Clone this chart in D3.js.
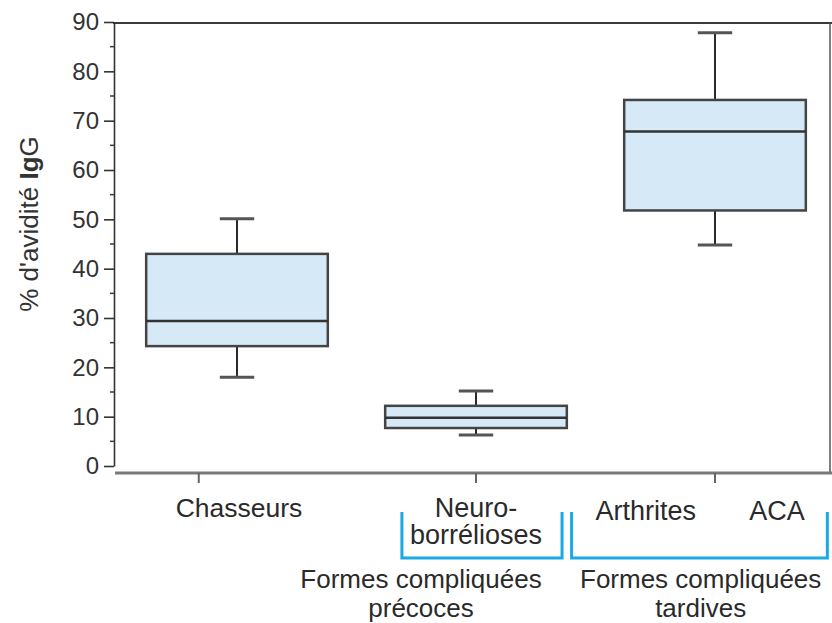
<!DOCTYPE html>
<html>
<head>
<meta charset="utf-8">
<script src="https://cdn.jsdelivr.net/npm/d3@7"></script>
<style>
  html, body { margin: 0; padding: 0; background: #fff; }
  svg { display: block; font-family: "Liberation Sans", Arial, Helvetica, sans-serif; }
</style>
</head>
<body>
<svg id="chart" width="832" height="623"></svg>
<script>
// Groups and their box-plot statistics (% IgG avidity)
const groups = ["Chasseurs", "Neuroborrélioses", "Formes tardives"];
const whiskerLow  = [18, 6.3, 44.8];
const q1          = [24.3, 7.7, 51.8];
const median      = [29.4, 9.8, 67.8];
const q3          = [43, 12.2, 74.2];
const whiskerHigh = [50.1, 15.2, 87.8];

// Axis ticks
const yMajorTicks = [0, 10, 20, 30, 40, 50, 60, 70, 80, 90];
const yMinorTicks = [5, 15, 25, 35, 45, 55, 65, 75, 85];
const xTickValues = [-0.16, 1, 2];

const svg = d3.select("#chart");

const y = d3.scaleLinear().domain([0, 90]).range([466, 22]);
const x = d3.scaleLinear().domain([0, 2]).range([237, 715]);

const frameLeft = 114, frameRight = 830, frameTop = 23, baseY = 473;
const boxHalf = 0.38;   // half box width in group units
const capHalf = 0.072;  // half cap width in group units

// Frame: top and right borders
svg.append("line").attr("x1", frameLeft - 1).attr("x2", 832)
  .attr("y1", frameTop).attr("y2", frameTop)
  .attr("stroke", "#3a3a3a").attr("stroke-width", 2);
svg.append("line").attr("x1", frameRight).attr("x2", frameRight)
  .attr("y1", frameTop).attr("y2", baseY)
  .attr("stroke", "#555").attr("stroke-width", 1.5);

// Y axis
const yAxis = svg.append("g").attr("transform", `translate(${frameLeft},0)`);
yAxis.call(d3.axisLeft(y).tickValues(yMajorTicks).tickSize(10).tickPadding(5).tickSizeOuter(0))
  .call(g => g.select(".domain").attr("stroke", "#333").attr("stroke-width", 1.6))
  .call(g => g.selectAll(".tick line").attr("stroke", "#333").attr("stroke-width", 1.6))
  .call(g => g.selectAll(".tick text").attr("fill", "#333")
    .style("font-size", "24px").style("font-family", "'Liberation Sans', Arial, sans-serif"));
yAxis.selectAll(".minor").data(yMinorTicks).join("line")
  .attr("class", "minor")
  .attr("x1", -4).attr("x2", 0)
  .attr("y1", d => y(d)).attr("y2", d => y(d))
  .attr("stroke", "#444").attr("stroke-width", 1.6);

// Y axis title
const yTitle = svg.append("text")
  .attr("transform", `translate(38,224) rotate(-90)`)
  .attr("text-anchor", "middle")
  .attr("fill", "#333")
  .style("font-size", "26px");
yTitle.append("tspan").text("% d'avidité ");
yTitle.append("tspan").attr("font-weight", "bold").text("Ig");
yTitle.append("tspan").text("G");

// X axis baseline with ticks
svg.append("line").attr("x1", frameLeft + 1).attr("x2", 832)
  .attr("y1", baseY).attr("y2", baseY)
  .attr("stroke", "#7a7a7a").attr("stroke-width", 3);
svg.selectAll(".xtick").data(xTickValues).join("line")
  .attr("class", "xtick")
  .attr("x1", d => x(d)).attr("x2", d => x(d))
  .attr("y1", baseY).attr("y2", baseY + 10)
  .attr("stroke", "#666").attr("stroke-width", 2);

// Box plots
const idx = d3.range(groups.length);
const boxes = svg.append("g");
boxes.selectAll(".whisker").data(idx).join("g").attr("class", "whisker")
  .each(function (i) {
    const g = d3.select(this);
    g.append("line").attr("x1", x(i)).attr("x2", x(i))
      .attr("y1", y(whiskerHigh[i])).attr("y2", y(q3[i]))
      .attr("stroke", "#2a2a2a").attr("stroke-width", 2);
    g.append("line").attr("x1", x(i)).attr("x2", x(i))
      .attr("y1", y(q1[i])).attr("y2", y(whiskerLow[i]))
      .attr("stroke", "#2a2a2a").attr("stroke-width", 2);
    [whiskerHigh[i], whiskerLow[i]].forEach(v => {
      g.append("line").attr("x1", x(i - capHalf)).attr("x2", x(i + capHalf))
        .attr("y1", y(v)).attr("y2", y(v))
        .attr("stroke", "#555").attr("stroke-width", 3);
    });
  });
boxes.selectAll(".box").data(idx).join("rect").attr("class", "box")
  .attr("x", i => x(i - boxHalf))
  .attr("width", i => x(i + boxHalf) - x(i - boxHalf))
  .attr("y", i => y(q3[i]))
  .attr("height", i => y(q1[i]) - y(q3[i]))
  .attr("fill", "#d6e9f7")
  .attr("stroke", "#444").attr("stroke-width", 2.5);
boxes.selectAll(".median").data(idx).join("line").attr("class", "median")
  .attr("x1", i => x(i - boxHalf)).attr("x2", i => x(i + boxHalf))
  .attr("y1", i => y(median[i])).attr("y2", i => y(median[i]))
  .attr("stroke", "#333").attr("stroke-width", 2.5);

// Category labels
const labelStyle = (sel, size) => sel.attr("fill", "#2a2a2a").attr("text-anchor", "middle").style("font-size", (size || 27) + "px");
svg.append("text").attr("x", x(0) + 2).attr("y", 517).text("Chasseurs").call(labelStyle, 26.5);
svg.append("text").attr("x", x(1)).attr("y", 517).text("Neuro-").call(labelStyle);
svg.append("text").attr("x", x(1)).attr("y", 544).text("borrélioses").call(labelStyle);
svg.append("text").attr("x", x(1.71)).attr("y", 520).text("Arthrites").call(labelStyle);
svg.append("text").attr("x", x(2.26)).attr("y", 520).text("ACA").call(labelStyle);

// Blue brackets grouping complicated forms
const brackets = [
  { from: 0.69, to: 1.36, lines: ["Formes compliquées", "précoces"], cx: 0.77 },
  { from: 1.40, to: 2.47, lines: ["Formes compliquées", "tardives"], cx: 1.94 }
];
brackets.forEach(b => {
  svg.append("path")
    .attr("d", `M${x(b.from)},512 V558 H${x(b.to)} V512`)
    .attr("fill", "none").attr("stroke", "#1aa9e3").attr("stroke-width", 3);
  b.lines.forEach((t, k) => {
    svg.append("text").attr("x", x(b.cx)).attr("y", 588 + k * 29).text(t).call(labelStyle, 26);
  });
});
</script>
</body>
</html>
